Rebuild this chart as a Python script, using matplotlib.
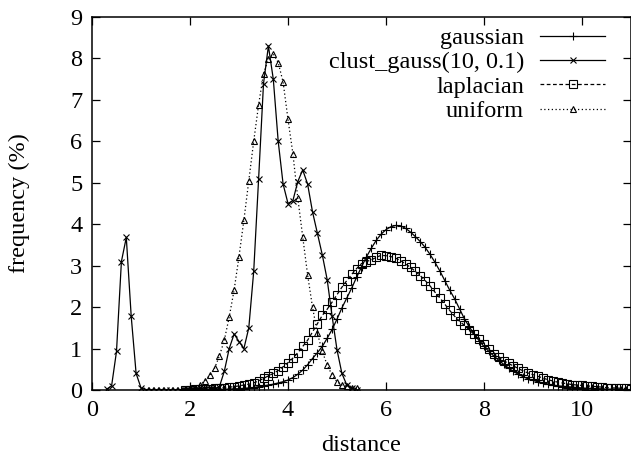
import numpy as np
import matplotlib
matplotlib.use('Agg')
import matplotlib.pyplot as plt

plt.rcParams['font.family'] = ['Liberation Serif', 'DejaVu Serif']
plt.rcParams['mathtext.fontset'] = 'stix'

# 横轴采样 (步长 0.1)
gauss_x = np.round(np.linspace(1.9, 11.0, 92), 1)
clust_x = np.round(np.linspace(0.3, 5.4, 52), 1)
unif_x = np.round(np.linspace(1.9, 5.4, 36), 1)

gaussian = [
    0.00, 0.00, 0.00, 0.00, 0.01, 0.01, 0.01, 0.01, 0.02, 0.02,
    0.03, 0.03, 0.04, 0.05, 0.06, 0.08, 0.10, 0.12, 0.14, 0.17,
    0.20, 0.24, 0.30, 0.38, 0.48, 0.61, 0.76, 0.90, 1.05, 1.25,
    1.46, 1.71, 1.98, 2.22, 2.46, 2.72, 2.97, 3.21, 3.42, 3.61,
    3.76, 3.87, 3.94, 3.97, 3.96, 3.90, 3.81, 3.70, 3.58, 3.44,
    3.27, 3.08, 2.87, 2.64, 2.41, 2.20, 1.96, 1.72, 1.52, 1.35,
    1.19, 1.05, 0.93, 0.82, 0.72, 0.62, 0.53, 0.45, 0.38, 0.32,
    0.27, 0.23, 0.20, 0.17, 0.14, 0.12, 0.10, 0.09, 0.08, 0.07,
    0.06, 0.05, 0.04, 0.04, 0.03, 0.03, 0.02, 0.02, 0.02, 0.01,
    0.01, 0.01]

laplacian = [
    0.01, 0.01, 0.02, 0.02, 0.03, 0.03, 0.04, 0.05, 0.06, 0.07,
    0.08, 0.10, 0.12, 0.14, 0.17, 0.22, 0.28, 0.34, 0.40, 0.47,
    0.56, 0.66, 0.77, 0.90, 1.05, 1.20, 1.40, 1.60, 1.80, 1.95,
    2.12, 2.30, 2.48, 2.64, 2.79, 2.93, 3.05, 3.10, 3.14, 3.20,
    3.25, 3.24, 3.22, 3.18, 3.12, 3.04, 2.96, 2.86, 2.76, 2.64,
    2.51, 2.36, 2.22, 2.07, 1.92, 1.78, 1.66, 1.56, 1.45, 1.34,
    1.22, 1.10, 0.98, 0.88, 0.79, 0.71, 0.64, 0.58, 0.52, 0.46,
    0.41, 0.37, 0.33, 0.29, 0.25, 0.22, 0.19, 0.17, 0.15, 0.13,
    0.12, 0.11, 0.10, 0.09, 0.08, 0.07, 0.06, 0.05, 0.05, 0.04,
    0.04, 0.03]

clust_gauss = [
    0.02, 0.10, 0.93, 3.10, 3.68, 1.78, 0.40, 0.05, 0.01, 0.01,
    0.01, 0.01, 0.01, 0.01, 0.01, 0.01, 0.01, 0.01, 0.01, 0.01,
    0.02, 0.02, 0.03, 0.08, 0.45, 1.00, 1.35, 1.17, 1.00, 1.50,
    2.86, 5.09, 7.39, 8.30, 7.50, 6.00, 4.97, 4.50, 4.57, 5.03,
    5.31, 4.97, 4.30, 3.78, 3.26, 2.66, 1.78, 0.97, 0.40, 0.12,
    0.04, 0.01]

uniform = [
    0.02, 0.03, 0.06, 0.12, 0.22, 0.35, 0.52, 0.82, 1.20, 1.76,
    2.41, 3.22, 4.10, 5.05, 6.00, 6.88, 7.63, 7.98, 8.11, 7.90,
    7.43, 6.53, 5.70, 4.63, 3.70, 2.78, 2.00, 1.37, 0.93, 0.60,
    0.36, 0.20, 0.12, 0.09, 0.06, 0.04]

fs = 17.5
fig = plt.figure(figsize=(6.31, 4.67), dpi=100)
ax = fig.add_axes([92 / 631, 1 - 390 / 467, 1 - 92 / 631, (390 - 17) / 467])

lw = 0.9
ax.plot(gauss_x, gaussian, color='black', lw=lw, marker='+', ms=6, mew=0.8,
        label='gaussian')
ax.plot(clust_x, clust_gauss, color='black', lw=lw, marker='x', ms=4.5, mew=0.8,
        label='clust_gauss(10, 0.1)')
ax.plot(gauss_x, laplacian, color='black', lw=lw, ls=(0, (3, 2)), marker='s',
        ms=6.3, mew=0.8, mfc='none', label='laplacian')
ax.plot(unif_x, uniform, color='black', lw=lw, ls=(0, (1, 2)), marker='^',
        ms=4.8, mew=0.8, mfc='none', label='uniform')

ax.set_xlim(0, 11)
ax.set_ylim(0, 9)
ax.set_xticks([0, 2, 4, 6, 8, 10])
ax.set_yticks(range(10))
ax.tick_params(direction='in', top=True, right=True, length=6, width=0.9,
               labelsize=fs, pad=7)
for s in ax.spines.values():
    s.set_linewidth(1.1)

ax.set_xlabel('distance', fontsize=fs, labelpad=10)
ax.set_ylabel('frequency (%)', fontsize=fs, labelpad=29)

leg = ax.legend(loc='upper right', frameon=False, markerfirst=False,
                fontsize=fs, handlelength=2.67, handletextpad=0.66,
                labelspacing=0.1, borderaxespad=0, borderpad=0,
                bbox_to_anchor=(1 - 26 / 539, 1 - 10 / 373))

fig.savefig('out.png', dpi=100)
